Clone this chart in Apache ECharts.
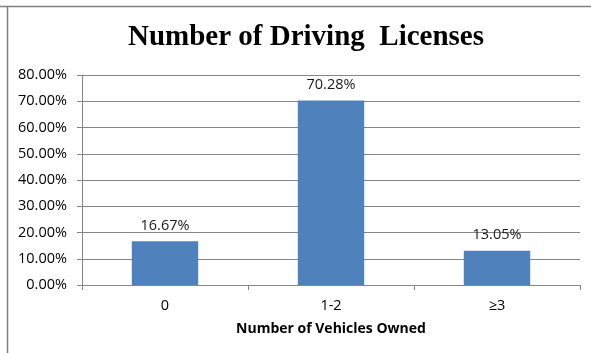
<!DOCTYPE html>
<html>
<head>
<meta charset="utf-8">
<script src="https://cdn.jsdelivr.net/npm/echarts@6/dist/echarts.min.js"></script>
<style>
  html, body { margin: 0; padding: 0; background: #ffffff; }
  #chart { width: 591px; height: 353px; }
</style>
</head>
<body>
<div id="chart"></div>
<script>
// Share of respondents by number of vehicles owned
const categories = ['0', '1-2', '≥3'];
const shares = [16.67, 70.28, 13.05];
const yTicks = { min: 0, max: 80, step: 10 };

const chart = echarts.init(document.getElementById('chart'), null, { renderer: 'canvas' });

const bodyFont = '"Open Sans", Lato, sans-serif';
const gridColor = '#868686';

chart.setOption({
  backgroundColor: '#ffffff',
  animation: false,
  title: {
    text: 'Number of Driving  Licenses',
    left: 301,
    textAlign: 'center',
    top: 18,
    textStyle: {
      fontFamily: '"Liberation Serif", "Times New Roman", serif',
      fontWeight: 'bold',
      fontSize: 29,
      color: '#000000'
    }
  },
  graphic: [
    // frame around the chart
    { type: 'line', shape: { x1: 0, y1: 6.5, x2: 591, y2: 6.5 }, style: { stroke: '#808080', lineWidth: 1.5 } },
    { type: 'line', shape: { x1: 7.5, y1: 6.5, x2: 7.5, y2: 353 }, style: { stroke: '#808080', lineWidth: 1.5 } }
  ],
  grid: { left: 82, right: 11, top: 75, bottom: 68, containLabel: false },
  xAxis: {
    type: 'category',
    data: categories,
    name: 'Number of Vehicles Owned',
    nameLocation: 'middle',
    nameGap: 37,
    nameTextStyle: { fontFamily: bodyFont, fontWeight: 'bold', fontSize: 14, color: '#000000' },
    axisLine: { lineStyle: { color: gridColor, width: 1 } },
    axisTick: { show: true, length: 5, lineStyle: { color: gridColor } },
    axisLabel: { margin: 13, fontFamily: bodyFont, fontSize: 14.5, color: '#000000' }
  },
  yAxis: {
    type: 'value',
    min: yTicks.min,
    max: yTicks.max,
    interval: yTicks.step,
    axisLine: { show: true, lineStyle: { color: gridColor, width: 1 } },
    axisTick: { show: true, length: 5, lineStyle: { color: gridColor } },
    splitLine: { show: true, lineStyle: { color: gridColor, width: 1 } },
    axisLabel: {
      margin: 15,
      fontFamily: bodyFont,
      fontSize: 14.5,
      color: '#000000',
      formatter: v => v.toFixed(2) + '%'
    }
  },
  series: [{
    type: 'bar',
    data: shares,
    barWidth: '40%',
    itemStyle: { color: '#4F81BD' },
    label: {
      show: true,
      position: 'top',
      distance: 8,
      fontFamily: bodyFont,
      fontSize: 14.5,
      color: '#1a1a1a',
      formatter: p => p.value.toFixed(2) + '%'
    }
  }]
});
</script>
</body>
</html>
